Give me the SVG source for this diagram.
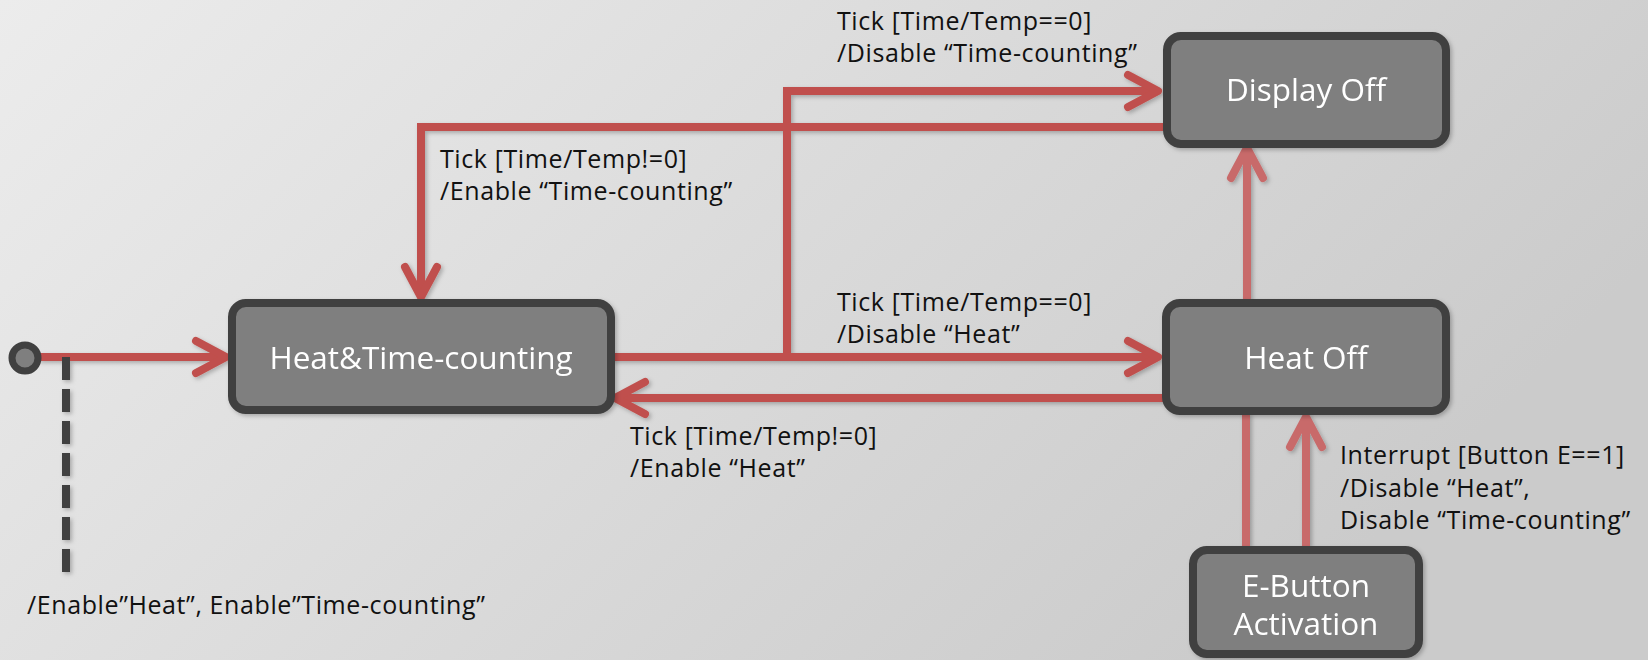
<svg xmlns="http://www.w3.org/2000/svg" width="1648" height="660" viewBox="0 0 1648 660">
<defs>
<linearGradient id="bg" x1="0" y1="0" x2="1" y2="0.4">
<stop offset="0" stop-color="#ececec"/>
<stop offset="1" stop-color="#cbcbcb"/>
</linearGradient>
<filter id="sh" x="-10%" y="-10%" width="120%" height="120%">
<feDropShadow dx="2" dy="2" stdDeviation="2" flood-color="#000" flood-opacity="0.25"/>
</filter>
<marker id="ah" markerUnits="userSpaceOnUse" viewBox="-40 -24 48 48" refX="0" refY="0" markerWidth="48" markerHeight="48" orient="auto">
<path d="M-30,-16 L0,0 L-30,16" fill="none" stroke="#c0504d" stroke-width="8" stroke-linecap="round" stroke-linejoin="round"/>
</marker>
<marker id="ahl" markerUnits="userSpaceOnUse" viewBox="-40 -24 48 48" refX="0" refY="0" markerWidth="48" markerHeight="48" orient="auto">
<path d="M-30,-16 L0,0 L-30,16" fill="none" stroke="#c86b6b" stroke-width="8" stroke-linecap="round" stroke-linejoin="round"/>
</marker>
</defs>
<style>
.node rect{fill:#7f7f7f;stroke:#404040;stroke-width:8;}
.nt{font-family:"Open Sans","Noto Sans",sans-serif;font-size:31.5px;fill:#ffffff;text-anchor:middle;}
.lb{font-family:"Open Sans","Noto Sans",sans-serif;font-size:25px;letter-spacing:0.6px;fill:#111111;}
.c{fill:none;stroke:#c0504d;stroke-width:8;}
.cl{fill:none;stroke:#c86b6b;stroke-width:8;}
</style>
<rect width="1648" height="660" fill="url(#bg)"/>

<g id="connectors" filter="url(#sh)">
<path class="c" d="M38,357 H226" marker-end="url(#ah)"/>
<path class="c" d="M611,357 H1158" marker-end="url(#ah)"/>
<path class="c" d="M787,357 V91 H1158" marker-end="url(#ah)"/>
<path class="c" d="M1163,127 H421 V297" marker-end="url(#ah)"/>
<path class="c" d="M1163,398 H615" marker-end="url(#ah)"/>
<path class="cl" d="M1247,300 V148" marker-end="url(#ahl)"/>
<path class="cl" d="M1246,546 V413"/>
<path class="cl" d="M1306,546 V417" marker-end="url(#ahl)"/>
<line x1="66" y1="357" x2="66" y2="573" stroke="#404040" stroke-width="8" stroke-dasharray="23 9"/>
</g>

<g id="initial">
<circle cx="25" cy="358" r="13" fill="#7f7f7f" stroke="#404040" stroke-width="7"/>
</g>

<g id="heat-time" class="node" filter="url(#sh)">
<rect x="232" y="303" width="379" height="107" rx="14"/>
<text class="nt" x="421" y="369">Heat&amp;Time-counting</text>
</g>
<g id="display-off" class="node" filter="url(#sh)">
<rect x="1167" y="36" width="279" height="108" rx="14"/>
<text class="nt" x="1306" y="101">Display Off</text>
</g>
<g id="heat-off" class="node" filter="url(#sh)">
<rect x="1166" y="303" width="280" height="108" rx="14"/>
<text class="nt" x="1306" y="369">Heat Off</text>
</g>
<g id="e-button" class="node" filter="url(#sh)">
<rect x="1193" y="550" width="226" height="104" rx="14"/>
<text class="nt" x="1306" y="597">E-Button</text>
<text class="nt" x="1306" y="635">Activation</text>
</g>

<g id="labels">
<text class="lb" x="837" y="30">Tick [Time/Temp==0]</text>
<text class="lb" x="837" y="62">/Disable “Time-counting”</text>
<text class="lb" x="440" y="168">Tick [Time/Temp!=0]</text>
<text class="lb" x="440" y="200">/Enable “Time-counting”</text>
<text class="lb" x="837" y="311">Tick [Time/Temp==0]</text>
<text class="lb" x="837" y="343">/Disable “Heat”</text>
<text class="lb" x="630" y="445">Tick [Time/Temp!=0]</text>
<text class="lb" x="630" y="477">/Enable “Heat”</text>
<text class="lb" x="1340" y="464">Interrupt [Button E==1]</text>
<text class="lb" x="1340" y="497">/Disable “Heat”,</text>
<text class="lb" x="1340" y="529">Disable “Time-counting”</text>
<text class="lb" x="27" y="614">/Enable”Heat”, Enable”Time-counting”</text>
</g>
</svg>
